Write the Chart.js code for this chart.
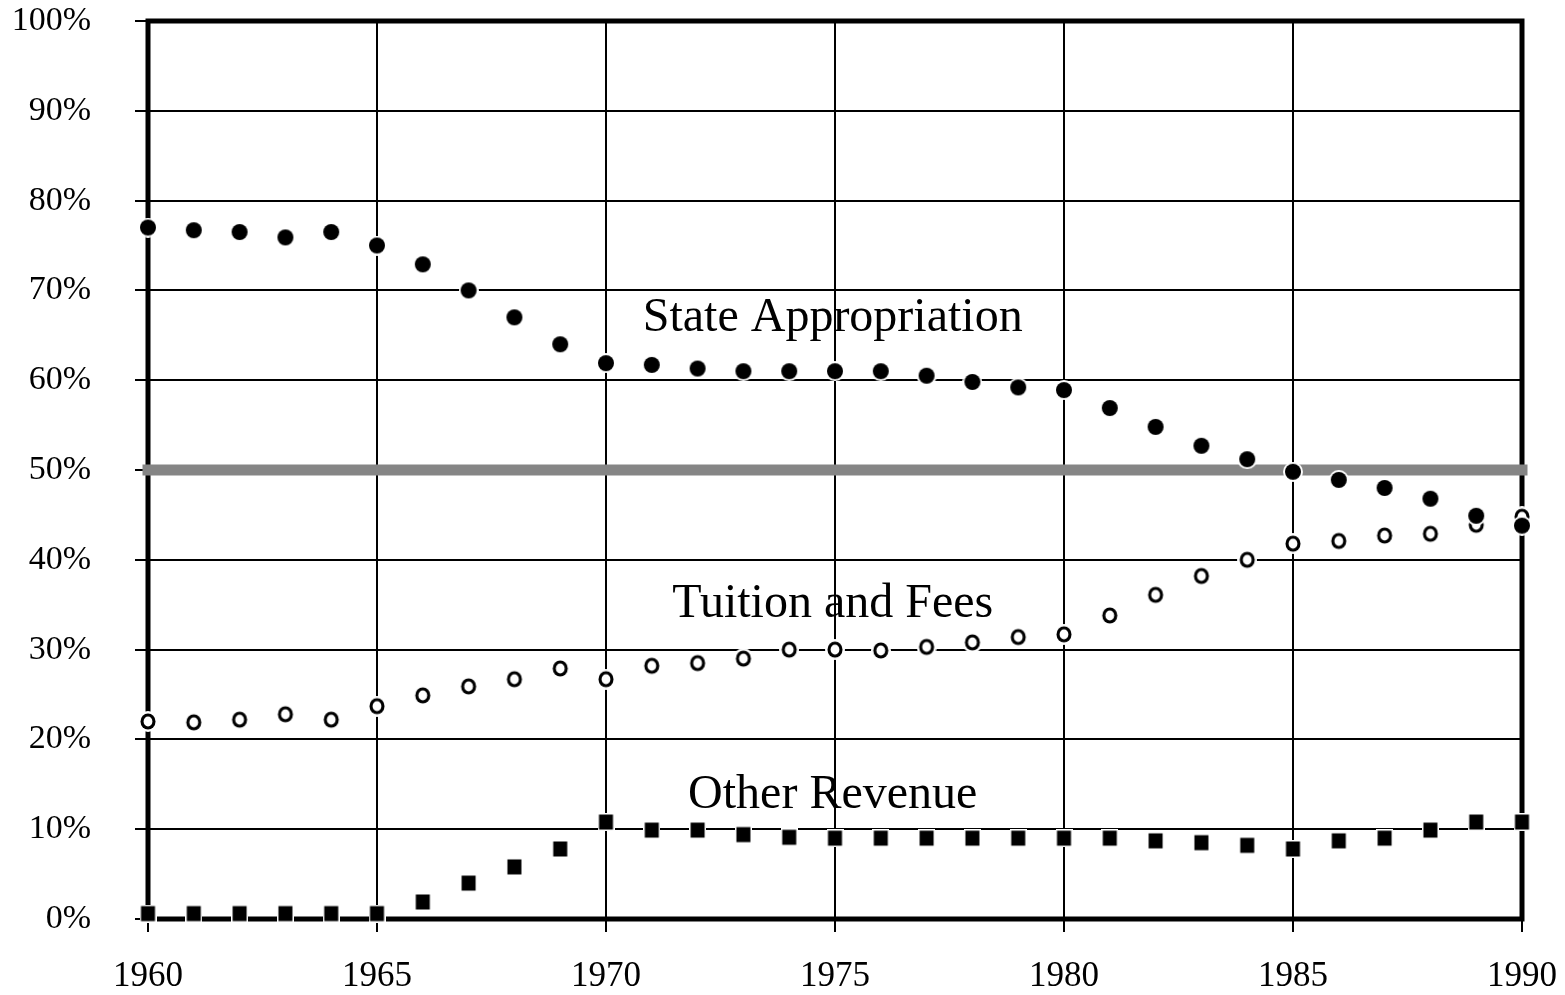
<!DOCTYPE html>
<html>
<head>
<meta charset="utf-8">
<title>Revenue shares 1960-1990</title>
<script src="https://cdn.jsdelivr.net/npm/chart.js@4.4.1/dist/chart.umd.min.js"></script>
<style>
  body { margin: 0; background: #fff; }
  canvas { display: block; }
</style>
</head>
<body>
<canvas id="revenue-chart" width="1565" height="995"></canvas>
<script>
const years = [1960, 1961, 1962, 1963, 1964, 1965, 1966, 1967, 1968, 1969,
  1970, 1971, 1972, 1973, 1974, 1975, 1976, 1977, 1978, 1979,
  1980, 1981, 1982, 1983, 1984, 1985, 1986, 1987, 1988, 1989, 1990];

const stateAppropriation = [77.0, 76.7, 76.5, 75.9, 76.5, 75.0, 72.9, 70.0, 67.0, 64.0,
  61.9, 61.7, 61.3, 61.0, 61.0, 61.0, 61.0, 60.5, 59.8, 59.2,
  58.9, 56.9, 54.8, 52.7, 51.2, 49.8, 48.9, 48.0, 46.8, 44.9, 43.8];

const tuitionFees = [22.0, 21.9, 22.2, 22.8, 22.2, 23.7, 24.9, 25.9, 26.7, 27.9,
  26.7, 28.2, 28.5, 29.0, 30.0, 30.0, 29.9, 30.3, 30.8, 31.4,
  31.7, 33.8, 36.1, 38.2, 40.0, 41.8, 42.1, 42.7, 42.9, 43.9, 44.8];

const otherRevenue = [0.6, 0.6, 0.6, 0.6, 0.6, 0.6, 1.9, 4.0, 5.8, 7.8,
  10.8, 9.9, 9.9, 9.4, 9.1, 9.0, 9.0, 9.0, 9.0, 9.0,
  9.0, 9.0, 8.7, 8.5, 8.2, 7.8, 8.7, 9.0, 9.9, 10.8, 10.8];

// the grey 50% reference line
const halfYears = [1960, 1990];
const halfLevel = [50, 50];

const seriesNames = ["State Appropriation", "Tuition and Fees", "Other Revenue"];

// where the series names sit (data coords of the text baseline centre)
const namePlaces = [
  { x: 1974.95, y: 65.5 },
  { x: 1974.95, y: 33.6 },
  { x: 1974.95, y: 12.4 },
];

const serif = "'Liberation Serif', 'Times New Roman', serif";

const toPoints = (xs, ys) => xs.map((x, i) => ({ x: x, y: ys[i] }));

// marker images with a white halo
const makeMarker = (w, h, draw) => {
  const c = document.createElement("canvas");
  c.width = w;
  c.height = h;
  draw(c.getContext("2d"), w / 2, h / 2);
  return c;
};

const filledDot = makeMarker(20, 20, (ctx, cx, cy) => {
  ctx.fillStyle = "#fff";
  ctx.beginPath();
  ctx.arc(cx, cy, 10, 0, Math.PI * 2);
  ctx.fill();
  ctx.fillStyle = "#000";
  ctx.beginPath();
  ctx.arc(cx, cy, 8, 0, Math.PI * 2);
  ctx.fill();
});

const openDot = makeMarker(20, 21, (ctx, cx, cy) => {
  ctx.fillStyle = "#fff";
  ctx.beginPath();
  ctx.ellipse(cx, cy, 10, 10.5, 0, 0, Math.PI * 2);
  ctx.fill();
  ctx.fillStyle = "#000";
  ctx.beginPath();
  ctx.ellipse(cx, cy, 7.5, 8, 0, 0, Math.PI * 2);
  ctx.fill();
  ctx.fillStyle = "#fff";
  ctx.beginPath();
  ctx.ellipse(cx, cy, 4.4, 4.9, 0, 0, Math.PI * 2);
  ctx.fill();
});

const square = makeMarker(17, 18, (ctx, cx, cy) => {
  ctx.fillStyle = "#fff";
  ctx.fillRect(0, 0, 17, 18);
  ctx.fillStyle = "#000";
  ctx.fillRect(1.5, 1.5, 14, 15);
});

const whiteBack = {
  id: "whiteBack",
  beforeDraw(chart) {
    const ctx = chart.ctx;
    ctx.save();
    ctx.fillStyle = "#fff";
    ctx.fillRect(0, 0, chart.width, chart.height);
    ctx.restore();
  },
};

const frame = {
  id: "frame",
  beforeDatasetsDraw(chart) {
    const { ctx, chartArea: a } = chart;
    ctx.save();
    ctx.strokeStyle = "#000";
    ctx.lineWidth = 5;
    ctx.strokeRect(a.left, a.top, a.right - a.left, a.bottom - a.top);
    ctx.restore();
  },
};

const seriesLabels = {
  id: "seriesLabels",
  afterDatasetsDraw(chart) {
    const { ctx, scales } = chart;
    ctx.save();
    ctx.font = "48px " + serif;
    ctx.fillStyle = "#000";
    ctx.textAlign = "center";
    ctx.textBaseline = "alphabetic";
    seriesNames.forEach((name, i) => {
      const p = namePlaces[i];
      ctx.fillText(name, scales.x.getPixelForValue(p.x), scales.y.getPixelForValue(p.y));
    });
    ctx.restore();
  },
};

const gridStyle = {
  color: "#000",
  lineWidth: 2,
  tickLength: 13,
  tickColor: "#000",
  tickWidth: 2,
};

const noPad = (scale) => {
  scale.paddingTop = 0;
  scale.paddingBottom = 0;
  scale.paddingLeft = 0;
  scale.paddingRight = 0;
};

const chart = new Chart(document.getElementById("revenue-chart"), {
  type: "scatter",
  data: {
    datasets: [
      {
        label: seriesNames[0],
        data: toPoints(years, stateAppropriation),
        pointStyle: filledDot,
        clip: false,
        order: 0,
      },
      {
        label: seriesNames[1],
        data: toPoints(years, tuitionFees),
        pointStyle: openDot,
        clip: false,
        order: 0,
      },
      {
        label: seriesNames[2],
        data: toPoints(years, otherRevenue),
        pointStyle: square,
        clip: false,
        order: 0,
      },
      {
        label: "50%",
        data: toPoints(halfYears, halfLevel),
        showLine: true,
        borderColor: "#858585",
        borderWidth: 11,
        borderCapStyle: "square",
        pointRadius: 0,
        clip: false,
        order: 10,
      },
    ],
  },
  options: {
    responsive: false,
    animation: false,
    devicePixelRatio: 1,
    layout: { padding: { top: 21, right: 43, left: 0, bottom: 0 } },
    plugins: {
      legend: { display: false },
      tooltip: { enabled: false },
    },
    scales: {
      x: {
        type: "linear",
        min: 1960,
        max: 1990,
        afterFit: (scale) => { scale.height = 76; noPad(scale); },
        border: { display: false },
        grid: gridStyle,
        ticks: {
          stepSize: 5,
          padding: 24,
          color: "#000",
          font: { family: serif, size: 35 },
          callback: (v) => String(v),
        },
      },
      y: {
        min: 0,
        max: 100,
        afterFit: (scale) => { scale.width = 148; noPad(scale); },
        border: { display: false },
        grid: gridStyle,
        ticks: {
          stepSize: 10,
          padding: 44,
          color: "#000",
          font: { family: serif, size: 34 },
          callback: (v) => v + "%",
        },
      },
    },
  },
  plugins: [whiteBack, frame, seriesLabels],
});
</script>
</body>
</html>
